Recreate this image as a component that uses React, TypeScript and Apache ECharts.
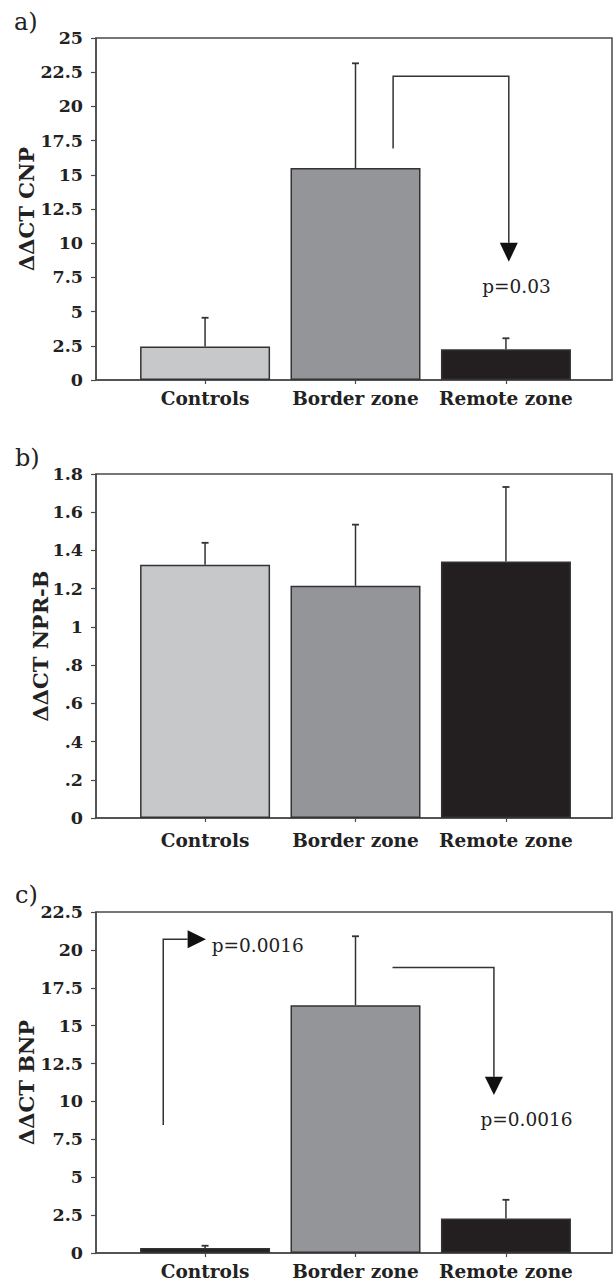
import React, { useEffect, useRef } from "react";
import * as echarts from "echarts";

// ---------- data ----------
const categories = ["Controls", "Border zone", "Remote zone"];
const catPos = [0, 1, 2];

const cnpMeans = [2.45, 15.5, 2.25];
const cnpErrors = [2.1, 7.65, 0.8];

const nprbMeans = [1.325, 1.215, 1.342];
const nprbErrors = [0.115, 0.32, 0.39];

const bnpMeans = [0.33, 16.35, 2.28];
const bnpErrors = [0.15, 4.55, 1.23];

const yMaxA = 25;
const yStepA = 2.5;
const yMaxB = 1.8;
const yStepB = 0.2;
const yMaxC = 22.5;
const yStepC = 2.5;

const yNames = ["ΔΔCT CNP", "ΔΔCT NPR-B", "ΔΔCT BNP"];
const panelLetters = ["a)", "b)", "c)"];

// significance annotations (data coordinates)
const annotationsA = [
  {
    path: [[1.25, 16.92], [1.25, 22.2], [2.019, 22.2], [2.019, 10.03]],
    tip: [2.019, 8.64],
    label: "p=0.03",
    labelAt: [2.07, 6.82],
    labelAlign: "center",
  },
];
const annotationsB: any[] = [];
const annotationsC = [
  {
    path: [[-0.278, 8.45], [-0.278, 20.7], [-0.116, 20.7]],
    tip: [0.006, 20.7],
    label: "p=0.0016",
    labelAt: [0.044, 20.3],
    labelAlign: "left",
  },
  {
    path: [[1.246, 18.84], [1.92, 18.84], [1.92, 11.63]],
    tip: [1.92, 10.43],
    label: "p=0.0016",
    labelAt: [2.137, 8.78],
    labelAlign: "center",
  },
];

// ---------- styles ----------
const FONT = '"DejaVu Serif", serif';
const barColorsAB = ["#c7c8ca", "#939598", "#231f20"];
const barColorsC = ["#231f20", "#939598", "#231f20"];
const lineColor = "#4a4a4a";
const textColor = "#222";
const xMin = -0.725;
const xMax = 2.705;

const grids = [
  { left: 96, top: 38, width: 516, height: 342 },
  { left: 96, top: 474, width: 516, height: 344 },
  { left: 96, top: 912, width: 516, height: 341 },
];

function fmtB(v: number) {
  if (Math.abs(v) < 1e-9) return "0";
  let s = String(parseFloat(v.toFixed(1)));
  if (s.startsWith("0.")) s = s.slice(1);
  return s;
}

function makeXAxis(i: number, labelMargin: number) {
  return {
    type: "value",
    gridIndex: i,
    min: xMin,
    max: xMax,
    splitLine: { show: false },
    axisLine: { show: true, onZero: false, lineStyle: { color: lineColor, width: 1.5 } },
    axisTick: { show: true, customValues: catPos, length: 4, lineStyle: { color: lineColor, width: 1.2 } },
    axisLabel: {
      show: true,
      customValues: catPos,
      margin: labelMargin,
      formatter: (v: number) => categories[catPos.indexOf(Math.round(v))] ?? "",
      fontFamily: FONT,
      fontWeight: "bold",
      fontSize: 18.5,
      color: textColor,
    },
  };
}

function makeYAxis(i: number, max: number, step: number, name: string, gap: number, fmt?: (v: number) => string) {
  return {
    type: "value",
    gridIndex: i,
    min: 0,
    max,
    interval: step,
    name,
    nameLocation: "middle",
    nameGap: gap,
    nameMoveOverlap: false,
    nameTextStyle: { fontFamily: FONT, fontWeight: "bold", fontSize: 21, color: textColor },
    splitLine: { show: false },
    axisLine: { show: true, onZero: false, lineStyle: { color: lineColor, width: 1.5 } },
    axisTick: { show: true, length: 5, lineStyle: { color: lineColor, width: 1.2 } },
    axisLabel: {
      margin: 13,
      fontFamily: FONT,
      fontWeight: "bold",
      fontSize: 17.5,
      color: textColor,
      formatter: fmt ? fmt : (v: number) => String(parseFloat(v.toFixed(2))),
    },
  };
}

function panelSeries(i: number, means: number[], errors: number[], anns: any[], colors: string[]) {
  const series: any[] = [
    {
      type: "bar",
      xAxisIndex: i,
      yAxisIndex: i,
      barWidth: 130,
      data: means.map((m, k) => ({ value: [catPos[k], m], itemStyle: { color: colors[k] } })),
      itemStyle: { borderColor: "#333", borderWidth: 1.5 },
      z: 2,
    },
    {
      type: "custom",
      xAxisIndex: i,
      yAxisIndex: i,
      z: 3,
      data: means.map((m, k) => [catPos[k], m, errors[k]]),
      encode: { x: 0, y: 1 },
      renderItem: (params: any, api: any) => {
        const x = api.value(0);
        const v = api.value(1);
        const e = api.value(2);
        const p0 = api.coord([x, v]);
        const p1 = api.coord([x, v + e]);
        return {
          type: "group",
          children: [
            { type: "line", shape: { x1: p0[0], y1: p0[1], x2: p1[0], y2: p1[1] }, style: { stroke: "#333", lineWidth: 1.5 } },
            { type: "line", shape: { x1: p1[0] - 3.5, y1: p1[1], x2: p1[0] + 3.5, y2: p1[1] }, style: { stroke: "#333", lineWidth: 1.8 } },
          ],
        };
      },
    },
  ];
  if (anns.length) {
    series.push({
      type: "custom",
      xAxisIndex: i,
      yAxisIndex: i,
      z: 4,
      data: [[0, 0]],
      renderItem: (params: any, api: any) => {
        const children: any[] = [];
        anns.forEach((a) => {
          const pts = a.path.map((p: number[]) => api.coord(p));
          children.push({
            type: "polyline",
            shape: { points: pts },
            style: { stroke: "#333", lineWidth: 1.5, fill: null },
          });
          const base = pts[pts.length - 1];
          const tip = api.coord(a.tip);
          const dx = tip[0] - base[0];
          const dy = tip[1] - base[1];
          const len = Math.hypot(dx, dy) || 1;
          const nx = -dy / len;
          const ny = dx / len;
          const hw = 9;
          children.push({
            type: "polygon",
            shape: {
              points: [
                [base[0] + nx * hw, base[1] + ny * hw],
                [base[0] - nx * hw, base[1] - ny * hw],
                tip,
              ],
            },
            style: { fill: "#111" },
          });
          const lp = api.coord(a.labelAt);
          children.push({
            type: "text",
            style: {
              text: a.label,
              x: lp[0],
              y: lp[1],
              align: a.labelAlign,
              verticalAlign: "middle",
              font: `18.5px ${FONT}`,
              fill: textColor,
            },
          });
        });
        return { type: "group", children };
      },
    });
  }
  return series;
}

export default function App() {
  const ref = useRef<HTMLDivElement>(null);
  useEffect(() => {
    if (!ref.current) return;
    const chart = echarts.init(ref.current, undefined, { renderer: "svg" });
    const option: any = {
      animation: false,
      backgroundColor: "#ffffff",
      textStyle: { fontFamily: FONT },
      grid: grids.map((g) => ({
        ...g,
        show: true,
        borderColor: lineColor,
        borderWidth: 1.5,
        backgroundColor: "transparent",
        containLabel: false,
      })),
      xAxis: [makeXAxis(0, 9), makeXAxis(1, 13), makeXAxis(2, 9)],
      yAxis: [
        makeYAxis(0, yMaxA, yStepA, yNames[0], 59),
        makeYAxis(1, yMaxB, yStepB, yNames[1], 45, fmtB),
        makeYAxis(2, yMaxC, yStepC, yNames[2], 59),
      ],
      series: [
        ...panelSeries(0, cnpMeans, cnpErrors, annotationsA, barColorsAB),
        ...panelSeries(1, nprbMeans, nprbErrors, annotationsB, barColorsAB),
        ...panelSeries(2, bnpMeans, bnpErrors, annotationsC, barColorsC),
      ],
      graphic: [
        { type: "text", x: 14, y: 22, style: { text: panelLetters[0], font: `24px ${FONT}`, fill: textColor, verticalAlign: "middle" } },
        { type: "text", x: 15, y: 458, style: { text: panelLetters[1], font: `24px ${FONT}`, fill: textColor, verticalAlign: "middle" } },
        { type: "text", x: 15, y: 895, style: { text: panelLetters[2], font: `24px ${FONT}`, fill: textColor, verticalAlign: "middle" } },
      ],
    };
    chart.setOption(option);
    return () => chart.dispose();
  }, []);
  return (
    <div
      ref={ref}
      style={{ position: "absolute", left: 0, top: 0, width: 615, height: 1281, background: "#fff" }}
    />
  );
}
